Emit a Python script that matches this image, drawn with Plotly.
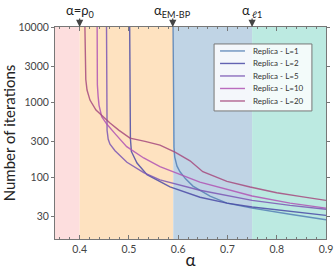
import plotly.graph_objects as go

# ---- data ----
labels = ["Replica - L=1", "Replica - L=2", "Replica - L=5", "Replica - L=10", "Replica - L=20"]

alpha_L1 = [0.5895, 0.590, 0.5905, 0.591, 0.5915, 0.593, 0.5976, 0.6037, 0.615, 0.630, 0.6646, 0.699, 0.750, 0.827, 0.900]
iters_L1 = [12000, 2000, 800, 400, 250, 185, 140, 118, 95, 76, 56, 45, 38.6, 32, 27]

alpha_L2 = [0.5015, 0.502, 0.5025, 0.503, 0.505, 0.5164, 0.5367, 0.5834, 0.6443, 0.699, 0.750, 0.827, 0.900]
iters_L2 = [12000, 1500, 600, 330, 220, 154, 108, 74, 54, 45, 40, 35, 31]

alpha_L5 = [0.4545, 0.455, 0.4553, 0.4557, 0.458, 0.4616, 0.4718, 0.496, 0.530, 0.563, 0.644, 0.750, 0.827, 0.900]
iters_L5 = [12000, 1500, 700, 420, 320, 275, 225, 158, 115, 92, 67, 49, 42, 37.4]

alpha_L10 = [0.4355, 0.4357, 0.436, 0.4375, 0.4393, 0.4448, 0.455, 0.4718, 0.4955, 0.530, 0.563, 0.644, 0.750, 0.827, 0.900]
iters_L10 = [12000, 3500, 1700, 1200, 912, 640, 510, 380, 255, 180, 138, 86, 56, 45, 38.6]

alpha_L20 = [0.4105, 0.4108, 0.4112, 0.4125, 0.415, 0.421, 0.4332, 0.4474, 0.4616, 0.480, 0.5022, 0.5327, 0.563, 0.5935,
             0.624, 0.650, 0.699, 0.746, 0.800, 0.850, 0.900]
iters_L20 = [12000, 5000, 3000, 2000, 1445, 1063, 782, 631, 525, 420, 331, 300, 267, 215,
             165, 118, 88, 74, 62, 55, 49]

series_alpha = [alpha_L1, alpha_L2, alpha_L5, alpha_L10, alpha_L20]
series_iters = [iters_L1, iters_L2, iters_L5, iters_L10, iters_L20]
line_colors = ["#5580b5", "#4a4aa6", "#7a56b4", "#b054b4", "#a64a7e"]

region_bounds = [0.35, 0.40, 0.59, 0.75, 0.90]
region_colors = ["#fddede", "#fee2c0", "#c0d4e5", "#bceae1"]

marker_alphas = [0.40, 0.589, 0.75]
marker_texts = ["α=ρ<sub>0</sub>", "α<sub>EM-BP</sub>", "α<sub> ℓ1</sub>"]

x_ticks = [0.4, 0.5, 0.6, 0.7, 0.8, 0.9]
y_ticks = [30, 100, 300, 1000, 3000, 10000]

FONT = "Lato"

fig = go.Figure()

for a, it, name, col in zip(series_alpha, series_iters, labels, line_colors):
    fig.add_trace(go.Scatter(x=a, y=it, mode="lines", name=name, showlegend=False,
                             line=dict(color=col, width=1.4), opacity=0.85))

shapes = []
for i, col in enumerate(region_colors):
    shapes.append(dict(type="rect", xref="x", yref="y domain",
                       x0=region_bounds[i], x1=region_bounds[i + 1], y0=0, y1=1,
                       fillcolor=col, line=dict(width=0), layer="below"))

annotations = []
for xa, txt in zip(marker_alphas, marker_texts):
    # arrow only
    annotations.append(dict(x=xa, xref="x", y=1, yref="paper", text="",
                            showarrow=True, arrowhead=2, arrowsize=1.2, arrowwidth=1.2,
                            arrowcolor="#444", ax=0, ay=-10))
    # label above the arrow
    annotations.append(dict(x=xa, xref="x", y=1, yref="paper", text=txt, showarrow=False,
                            xanchor="center", yanchor="bottom", yshift=6, borderpad=0,
                            font=dict(family=FONT, size=13, color="#222")))

# ---- manual legend (compact, as in the reference) ----
leg_x0, leg_x1, leg_y0, leg_y1 = 0.587, 0.948, 0.604, 0.920
shapes.append(dict(type="rect", xref="paper", yref="paper", x0=leg_x0, x1=leg_x1, y0=leg_y0, y1=leg_y1,
                   fillcolor="rgba(255,255,255,0.82)", line=dict(color="#777", width=1), layer="above"))
leg_top, leg_step = 0.887, 0.059
for i, (name, col) in enumerate(zip(labels, line_colors)):
    yy = leg_top - i * leg_step
    shapes.append(dict(type="line", xref="paper", yref="paper", x0=0.609, x1=0.701, y0=yy, y1=yy,
                       line=dict(color=col, width=1.4), opacity=0.85, layer="above"))
    annotations.append(dict(x=0.723, y=yy, xref="paper", yref="paper", text=name, showarrow=False,
                            xanchor="left", yanchor="middle",
                            font=dict(family=FONT, size=8, color="#333")))

fig.update_layout(
    width=334, height=270,
    margin=dict(l=55, r=8, t=27, b=31),
    paper_bgcolor="white", plot_bgcolor="white",
    font=dict(family=FONT, size=10, color="#444"),
    shapes=shapes, annotations=annotations,
    showlegend=False,
)

fig.update_xaxes(range=[0.35, 0.9], tickvals=x_ticks, ticktext=[f"{v:.1f}" for v in x_ticks],
                 ticks="inside", ticklen=4, tickcolor="#777", showline=True, linecolor="#777",
                 mirror="ticks", showgrid=False, zeroline=False, automargin=False,
                 tickfont=dict(family=FONT, size=10.5, color="#444"),
                 minor=dict(dtick=0.02, ticks="inside", ticklen=2, tickcolor="#777"),
                 title=dict(text="α", font=dict(family=FONT, size=17, color="#222"), standoff=0))

fig.update_yaxes(type="log", range=[1.176, 4.0], tickvals=y_ticks, ticktext=[str(v) for v in y_ticks],
                 ticks="outside", ticklen=3, tickcolor="#777", showline=True, linecolor="#777",
                 mirror="ticks", showgrid=False, zeroline=False, automargin=False,
                 tickfont=dict(family=FONT, size=10.5, color="#444"),
                 title=dict(text="Number of iterations", font=dict(family=FONT, size=15, color="#222"),
                            standoff=0))

fig.write_html("out.html", config={"displayModeBar": False, "staticPlot": True},
               post_script="document.body.style.margin='0';")
